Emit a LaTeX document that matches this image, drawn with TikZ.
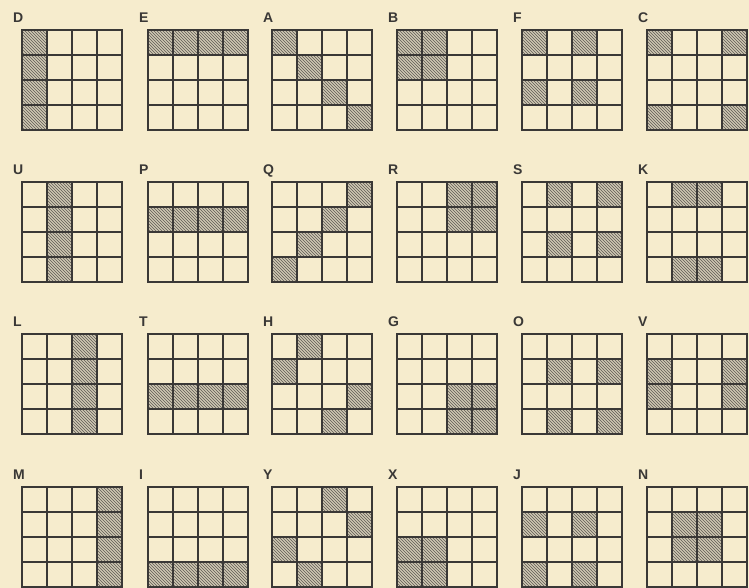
\documentclass[tikz,border=0pt]{standalone}
\usepackage{fontspec}
\setsansfont{Liberation Sans}
\usepackage{tikz}
\usetikzlibrary{patterns}
\definecolor{paper}{HTML}{F6ECCD}
\definecolor{hatchbg}{HTML}{CFC8B2}
\definecolor{hatchline}{HTML}{5E5A55}
\definecolor{gridink}{HTML}{3A3836}
\begin{document}
\begin{tikzpicture}[x=1pt, y=1pt,
  cellfill/.style={fill=hatchbg},
  cellhatch/.style={pattern=north west lines, pattern color=hatchline},
  gridline/.style={gridink, line width=1.1pt},
  gridframe/.style={gridink, line width=1.7pt},
  letterlabel/.style={anchor=base west, inner sep=0pt, gridink,
                      font=\sffamily\bfseries\fontsize{14}{14}\selectfont}]
\fill[paper] (0, 0) rectangle (749, 588);
\useasboundingbox (0, 0) rectangle (749, 588);
% each entry: left/bottom/letter/four shaded cells as row-column digits
\foreach \gx/\gy/\lab/\ca/\cb/\cc/\cd in {
  22/458/D/11/21/31/41, 148/458/E/11/12/13/14,
  272/458/A/11/22/33/44, 397/458/B/11/12/21/22,
  522/458/F/11/13/31/33, 647/458/C/11/14/41/44,
  22/306/U/12/22/32/42, 148/306/P/21/22/23/24,
  272/306/Q/14/23/32/41, 397/306/R/13/14/23/24,
  522/306/S/12/14/32/34, 647/306/K/12/13/42/43,
  22/154/L/13/23/33/43, 148/154/T/31/32/33/34,
  272/154/H/12/21/34/43, 397/154/G/33/34/43/44,
  522/154/O/22/24/42/44, 647/154/V/21/31/24/34,
  22/1/M/14/24/34/44, 148/1/I/41/42/43/44,
  272/1/Y/13/24/31/42, 397/1/X/31/32/41/42,
  522/1/J/21/23/41/43, 647/1/N/22/23/32/33
}{
  \begin{scope}[shift={(\gx, \gy)}]
    \foreach \rc in {\ca, \cb, \cc, \cd}{
      \pgfmathtruncatemacro\rr{\rc/10}
      \pgfmathtruncatemacro\kk{mod(\rc, 10)}
      \fill[cellfill] ({(\kk-1)*25}, {100-\rr*25}) rectangle ({\kk*25}, {125-\rr*25});
      \fill[cellhatch] ({(\kk-1)*25}, {100-\rr*25}) rectangle ({\kk*25}, {125-\rr*25});
    }
    \foreach \k in {25, 50, 75}{
      \draw[gridline] (\k, 0) -- (\k, 100);
      \draw[gridline] (0, \k) -- (100, \k);
    }
    \draw[gridframe] (0, 0) rectangle (100, 100);
    \node[letterlabel] (lab-\lab) at (-9, 107) {\lab};
  \end{scope}
}
\end{tikzpicture}
\end{document}
